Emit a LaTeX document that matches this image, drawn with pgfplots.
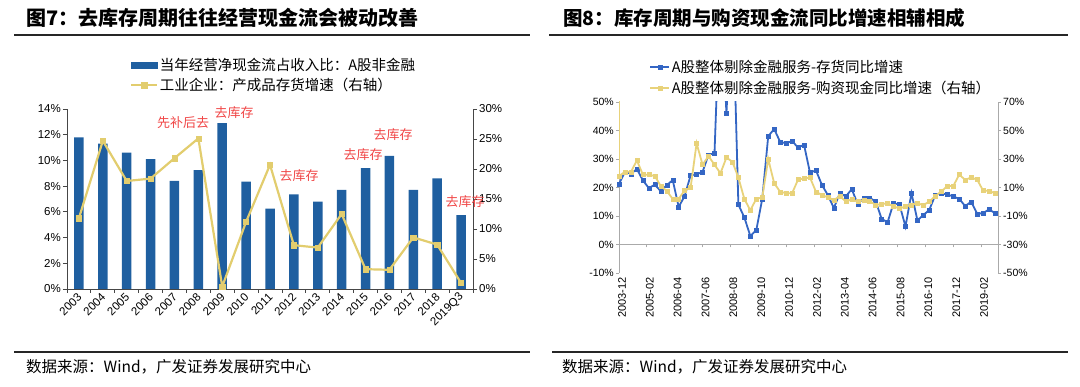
\documentclass[border=0pt]{standalone}
\usepackage{pgfplots}
\pgfplotsset{compat=1.18}
\usepackage{fontspec}
\setmainfont{Liberation Sans}
\newfontfamily\cjk{Noto Sans CJK SC}
\definecolor{barblue}{RGB}{31,95,160}
\definecolor{lineyel}{RGB}{226,205,110}
\definecolor{rblue}{RGB}{52,102,196}
\definecolor{ryel}{RGB}{232,210,122}
\definecolor{annred}{RGB}{240,70,70}
\definecolor{axgray}{RGB}{170,170,170}
\definecolor{axdark}{RGB}{70,70,70}
\pgfplotsset{
  mylegline/.style={legend image code/.code={\draw[mark repeat=2,mark phase=2] plot coordinates {(0pt,0pt) (#1/2,0pt) (#1,0pt)};}},
}
\begin{document}
\begin{tikzpicture}[x=1pt,y=1pt]
\useasboundingbox (0,0) rectangle (1080,387);
% titles and rules
\node[anchor=base west, inner sep=0] at (26,361) {\cjk\bfseries\fontsize{20}{22}\selectfont 图7：去库存周期往往经营现金流会被动改善};
\node[anchor=base west, inner sep=0] at (563,361) {\cjk\bfseries\fontsize{19.5}{22}\selectfont 图8：库存周期与购资现金流同比增速相辅相成};
\draw[line width=1.6pt, black!85] (14,352) -- (530,352);
\draw[line width=1.6pt, black!85] (549,352) -- (1068,352);
\draw[line width=1.6pt, black!85] (14,35) -- (530,35);
\draw[line width=1.6pt, black!85] (552,35) -- (1068,35);
\node[anchor=base west, inner sep=0] at (26,14) {\cjk\fontsize{15.5}{17}\selectfont 数据来源：Wind，广发证券发展研究中心};
\node[anchor=base west, inner sep=0] at (562,14) {\cjk\fontsize{15.5}{17}\selectfont 数据来源：Wind，广发证券发展研究中心};

% ===== Left chart =====
\begin{axis}[at={(67pt,98pt)}, anchor=south west, scale only axis,
  width=406pt, height=180pt,
  xmin=-0.5, xmax=16.5, ymin=0, ymax=14,
  axis y line*=left, axis x line*=bottom,
  axis line style={axdark, line width=0.9pt, -},
  xtick={0,...,16},
  xticklabels={2003,2004,2005,2006,2007,2008,2009,2010,2011,2012,2013,2014,2015,2016,2017,2018,2019Q3},
  major x tick style={draw=none},
  minor xtick={-0.5,0.5,...,16.5},
  minor tick length=4pt, major tick length=4pt,
  tick align=outside,
  tick style={axdark, line width=0.8pt},
  xticklabel style={rotate=45, anchor=east, font=\fontsize{11.5}{13}\selectfont, inner sep=1pt, yshift=-2pt},
  ytick={0,2,...,14},
  yticklabels={0\%,2\%,4\%,6\%,8\%,10\%,12\%,14\%},
  yticklabel style={font=\fontsize{11.5}{13}\selectfont, inner sep=2pt},
]
\addplot[ybar, bar width=9.5pt, fill=barblue, draw=none] coordinates {
(0,11.8) (1,11.3) (2,10.6) (3,10.1) (4,8.4) (5,9.25) (6,12.9) (7,8.35) (8,6.25)
(9,7.35) (10,6.8) (11,7.7) (12,9.4) (13,10.35) (14,7.7) (15,8.6) (16,5.75)};
\end{axis}
\begin{axis}[at={(67pt,98pt)}, anchor=south west, scale only axis,
  width=406pt, height=180pt,
  xmin=-0.5, xmax=16.5, ymin=0, ymax=30,
  axis y line*=right, axis x line=none,
  axis line style={axdark, line width=0.9pt, -},
  major tick length=4pt, tick align=outside,
  tick style={axdark, line width=0.8pt},
  ytick={0,5,...,30},
  yticklabels={0\%,5\%,10\%,15\%,20\%,25\%,30\%},
  yticklabel style={font=\fontsize{11.5}{13}\selectfont, inner sep=2pt},
  legend style={at={(0.155,1.29)}, anchor=north west, draw=none, fill=none,
    font=\cjk\fontsize{14.5}{17}\selectfont, row sep=3pt, inner sep=0pt,
    nodes={inner sep=1.5pt}},
  legend cell align=left,
]
\addlegendimage{legend image code/.code={\fill[barblue] (0pt,-3pt) rectangle (26pt,3pt);}}
\addlegendentry{当年经营净现金流占收入比：A股非金融}
\addplot[lineyel, line width=2.2pt, mark=square*, mark size=2.6pt, mylegline=26pt,
  mark options={fill=lineyel, draw=lineyel, line width=0.5pt}] coordinates {
(0,11.8) (1,24.7) (2,18.0) (3,18.4) (4,21.8) (5,25.1) (6,0.4) (7,11.2) (8,20.7)
(9,7.3) (10,6.9) (11,12.5) (12,3.3) (13,3.2) (14,8.6) (15,7.4) (16,1.0)};
\addlegendentry{工业企业：产成品存货增速（右轴）}
\end{axis}
\begin{scope}[every node/.style={annred, font=\cjk\fontsize{13}{15}\selectfont, inner sep=0}]
\node at (183,264) {先补后去};
\node at (234,274) {去库存};
\node at (299,211) {去库存};
\node at (363,232) {去库存};
\node at (393,252) {去库存};
\node at (465,185) {去库存};
\end{scope}

% ===== Right chart =====
\begin{axis}[at={(619pt,114pt)}, anchor=south west, scale only axis,
  width=379pt, height=171pt,
  xmin=0, xmax=190.5, ymin=-10, ymax=50,
  axis y line*=left, axis x line*=bottom,
  y axis line style={axgray, line width=1pt, -},
  x axis line style={draw=none},
  xtick={0,14,...,182},
  xticklabels={2003-12,2005-02,2006-04,2007-06,2008-08,2009-10,2010-12,2012-02,2013-04,2014-06,2015-08,2016-10,2017-12,2019-02},
  major x tick style={draw=none},
  xticklabel style={rotate=90, anchor=east, font=\fontsize{11}{12}\selectfont, inner sep=1pt, yshift=-3pt},
  major tick length=3pt, tick align=outside,
  ytick={-10,0,...,50},
  yticklabels={-10\%,0\%,10\%,20\%,30\%,40\%,50\%},
  y tick style={axgray, line width=0.8pt},
  yticklabel style={font=\fontsize{10.5}{12}\selectfont, inner sep=2pt},
]
\addplot[rblue, line width=1.8pt, mark=square*, mark size=2pt,
  mark options={fill=rblue, draw=rblue, line width=0.4pt}] coordinates {
(0,21.3) (3,25.5) (6,24.8) (9,26.5) (12,22.5) (15,19.8) (18,21) (21,18.7) (24,20.8)
(27,22.6) (30,13.2) (33,17) (36,24.3) (39,24.6) (42,25.5) (45,31.5) (48,32) (51,90)
(54,46) (57,90) (60,14) (63,9.5) (66,3) (69,5) (72,16) (75,38) (78,40.5) (81,36)
(84,35.5) (87,36.3) (90,34) (93,35) (96,25.2) (99,26) (102,20.9) (105,17.3) (108,12.8)
(111,18) (114,16.9) (117,19.4) (120,14.2) (123,16.2) (126,16.3) (129,15.2) (132,9)
(135,7.8) (138,14.5) (141,14) (144,6.3) (147,18) (150,8.5) (153,10.3) (156,12.2)
(159,17.4) (162,18) (165,17.5) (168,16.9) (171,16) (174,13.5) (177,15) (180,10.8)
(183,11) (186,12.3) (189,11)};
\end{axis}
\begin{axis}[at={(619pt,142.5pt)}, anchor=south west, scale only axis,
  width=379pt, height=142.5pt,
  xmin=0, xmax=190.5, ymin=0, ymax=1,
  axis x line*=bottom, axis y line=none,
  x axis line style={axgray, line width=1pt, -},
  xtick={0,14,...,182}, xticklabels={},
  major tick length=3pt, tick align=outside,
  x tick style={axgray, line width=0.8pt},
]
\end{axis}
\begin{axis}[at={(619pt,114pt)}, anchor=south west, scale only axis,
  width=379pt, height=171pt,
  xmin=0, xmax=190.5, ymin=-50, ymax=70,
  axis y line*=right, axis x line=none,
  y axis line style={axgray, line width=1pt, -},
  major tick length=3pt, tick align=outside,
  ytick={-50,-30,...,70},
  yticklabels={-50\%,-30\%,-10\%,10\%,30\%,50\%,70\%},
  y tick style={axgray, line width=0.8pt},
  yticklabel style={font=\fontsize{10.5}{12}\selectfont, inner sep=2pt},
  legend style={at={(0.08,1.255)}, anchor=north west, draw=none, fill=none,
    font=\cjk\fontsize{14.5}{17}\selectfont, row sep=4pt, inner sep=0pt,
    nodes={inner sep=1.5pt}},
  legend cell align=left,
]
\addlegendimage{rblue, line width=1.8pt, mark=square*, mark size=2pt,
  mark options={fill=rblue, draw=rblue, line width=0.4pt}, mylegline=19pt}
\addlegendentry{A股整体剔除金融服务-存货同比增速}
\addplot[ryel, line width=1.8pt, mark=square*, mark size=2pt, mylegline=19pt,
  mark options={fill=ryel, draw=ryel, line width=0.4pt}] coordinates {
(0,300) (0,18) (3,21) (6,21) (9,29) (12,19) (15,19) (18,18) (21,11) (24,7.6) (27,2)
(30,2) (33,8) (36,10) (39,41) (42,26) (45,32) (48,26) (51,20) (54,31) (57,28) (60,17)
(63,2) (66,-6) (69,2) (72,3) (75,30) (78,13) (81,7) (84,6) (87,6) (90,15.5) (93,16.4)
(96,17) (99,7) (102,4.7) (105,3.1) (108,1.2) (111,4) (114,0.1) (117,1.7) (120,0.1)
(123,1.2) (126,0.5) (129,-2.3) (132,-1.6) (135,-1.1) (138,-3.4) (141,-4.6) (144,-3.4)
(147,-2.3) (150,-1.1) (153,-2.3) (156,0.1) (159,4) (162,7.2) (165,11) (168,11) (171,19)
(174,15.4) (177,17) (180,15.6) (183,7.8) (186,7.6) (189,6)};
\addlegendentry{A股整体剔除金融服务-购资现金同比增速（右轴）}
\end{axis}
\end{tikzpicture}
\end{document}
